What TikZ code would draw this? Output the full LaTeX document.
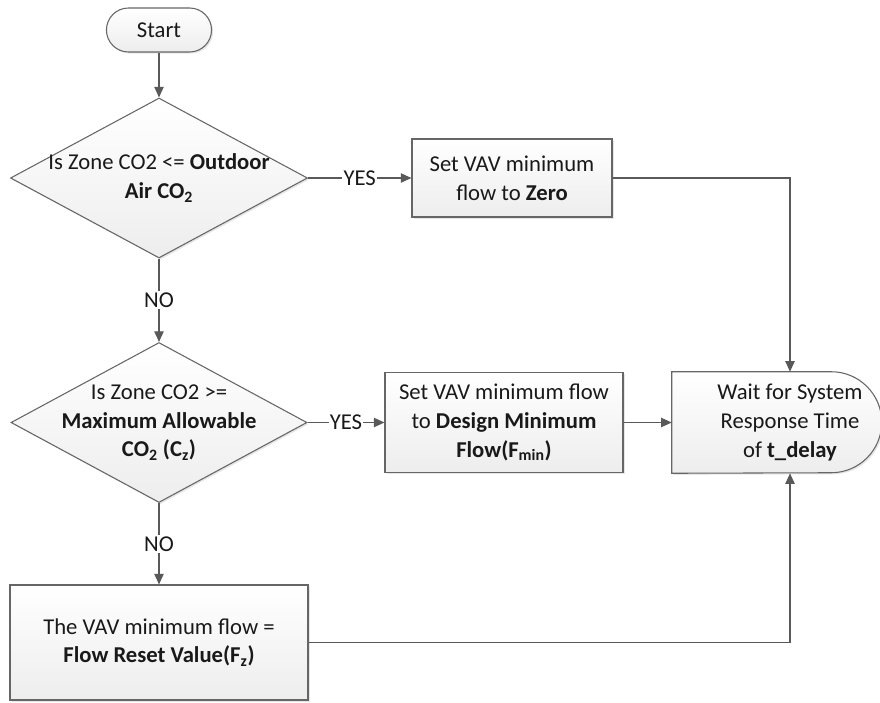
\documentclass[tikz,border=0pt]{standalone}
\usepackage{fontspec}
\setmainfont{Carlito}
\usetikzlibrary{shapes.geometric, shapes.misc, arrows.meta, shadows, backgrounds}
\definecolor{linegray}{RGB}{89, 89, 89}
\definecolor{edgegray}{RGB}{102, 102, 102}
\definecolor{inkblack}{RGB}{25, 25, 25}

\tikzset{
  flowfont/.style={font=\fontsize{17}{21.5}\selectfont, text=inkblack},
  shapefill/.style={draw=edgegray, line width=0.8pt, top color=white, bottom color=gray!14,
    drop shadow={opacity=0.2, shadow xshift=1.2pt, shadow yshift=-1.2pt}},
  termnode/.style={shapefill, flowfont, rounded rectangle, minimum width=85.5pt, minimum height=33pt},
  procbox/.style={shapefill, flowfont, rectangle, align=center},
  decision/.style={shapefill, diamond, inner sep=0pt},
  dectext/.style={flowfont, align=center, inner sep=0pt},
  flowline/.style={draw=linegray, line width=1pt, -{Triangle[length=8pt, width=7pt]}},
  flowlab/.style={flowfont, fill=white, inner sep=1pt},
}

\begin{document}
\begin{tikzpicture}[x=0.75pt, y=-0.75pt]
  \useasboundingbox (0,0) rectangle (880,702);

  % Left column
  \node[termnode] (start) at (159,30) {Start};

  \node[decision, minimum width=222.75pt, minimum height=120pt] (isout) at (159,178) {};
  \node[dectext] (isouttxt) at (isout) {Is Zone CO2 <= \textbf{Outdoor}\\\textbf{Air CO\textsubscript{2}}};

  \node[decision, minimum width=222pt, minimum height=120pt] (ismax) at (159,422.5) {};
  \node[dectext] (ismaxtxt) at (ismax) {Is Zone CO2 >=\\\textbf{Maximum Allowable}\\\textbf{CO\textsubscript{2} (C\textsubscript{z})}};

  \node[procbox, minimum width=223.5pt, minimum height=86.25pt] (reset) at (159,642.5) {
    The VAV minimum flow =\\
    \textbf{Flow Reset Value(F\textsubscript{z})}
  };

  % Actions
  \node[procbox, minimum width=150pt, minimum height=58.5pt] (zero) at (512,178) {
    Set VAV minimum\\
    flow to \textbf{Zero}
  };

  \node[procbox, minimum width=178.5pt, minimum height=75pt] (design) at (504,422.5) {
    Set VAV minimum flow\\
    to \textbf{Design Minimum}\\
    \textbf{Flow(F\textsubscript{min})}
  };

  % Delay
  \node[flowfont, align=center, minimum width=177pt, minimum height=75.75pt] (wait) at (790,422.5) {
    Wait for System\\
    Response Time\\
    of \textbf{t\_delay}
  };
  \begin{pgfonlayer}{background}
    \path[shapefill] (wait.south west) -- (wait.north west) -- ++(159.5,0)
      arc[start angle=90, end angle=-90, radius=37.875pt] -- cycle;
  \end{pgfonlayer}

  % Connectors
  \draw[flowline] (start.south) -- (isout.north);
  \draw[flowline] (isout.east) -- node[flowlab] {YES} (zero.west);
  \draw[flowline] (zero.east) -| (wait.north);
  \draw[flowline] (isout.south) -- node[flowlab] {NO} (ismax.north);
  \draw[flowline] (ismax.east) -- node[flowlab] {YES} (design.west);
  \draw[flowline] (design.east) -- (wait.west);
  \draw[flowline] (ismax.south) -- node[flowlab] {NO} (reset.north);
  \draw[flowline] (reset.east) -| (wait.south);
\end{tikzpicture}
\end{document}
